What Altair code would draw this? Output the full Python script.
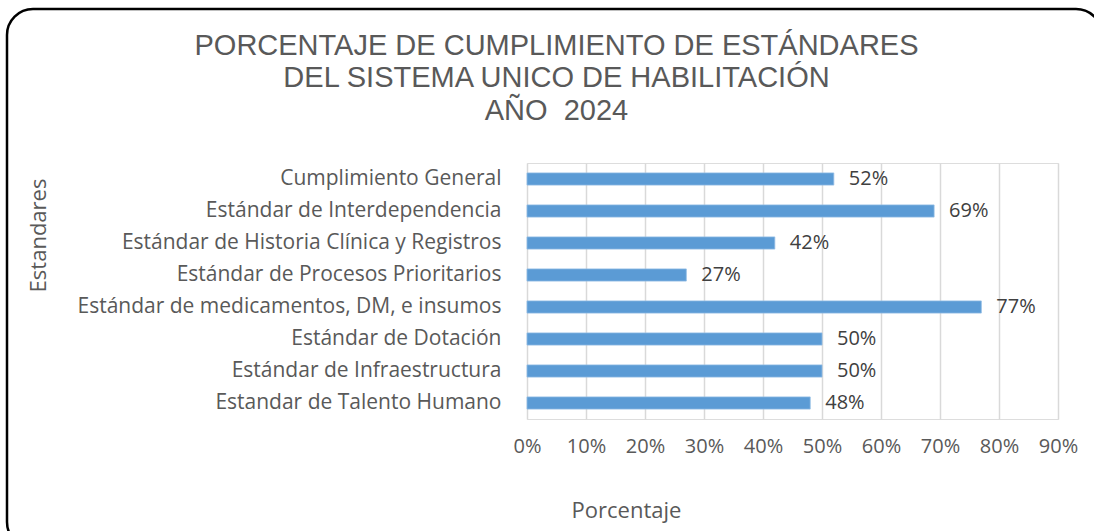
import altair as alt
import pandas as pd

categories = [
    "Cumplimiento General",
    "Estándar de Interdependencia",
    "Estándar de Historia Clínica y Registros",
    "Estándar de Procesos Prioritarios",
    "Estándar de medicamentos, DM, e insumos",
    "Estándar de Dotación",
    "Estándar de Infraestructura",
    "Estandar de Talento Humano",
]
values = [0.52, 0.69, 0.42, 0.27, 0.77, 0.50, 0.50, 0.48]

df = pd.DataFrame({"cat": categories, "val": values})
frame_df = pd.DataFrame({"k": [0]})

GRAY = "#595959"
LFONT = "Open Sans"
FS = 20

y_enc = alt.Y(
    "cat:N",
    sort=categories,
    scale=alt.Scale(paddingInner=0.62, paddingOuter=0.31),
    axis=alt.Axis(
        title="Estandares",
        titleFont=LFONT,
        titleFontSize=22,
        titleFontWeight="normal",
        titleColor=GRAY,
        titleAngle=-90,
        titleX=-489,
        titleY=72,
        titleAlign="center",
        titleBaseline="middle",
        labelFont=LFONT,
        labelFontSize=21,
        labelColor=GRAY,
        labelPadding=26,
        labelLimit=500,
        ticks=False,
        domain=False,
        grid=False,
    ),
)

x_enc = alt.X(
    "val:Q",
    scale=alt.Scale(domain=[0, 0.9], nice=False),
    axis=alt.Axis(
        title="Porcentaje",
        format=".0%",
        values=[0, 0.1, 0.2, 0.3, 0.4, 0.5, 0.6, 0.7, 0.8, 0.9],
        titleFont=LFONT,
        titleFontSize=22,
        titleFontWeight="normal",
        titleColor=GRAY,
        titleX=99,
        titleY=91,
        titleAlign="center",
        titleBaseline="middle",
        labelFont=LFONT,
        labelFontSize=FS,
        labelColor=GRAY,
        labelPadding=17,
        labelFlush=False,
        labelOverlap=False,
        labelBound=False,
        ticks=False,
        domain=False,
        grid=True,
        gridColor="#d9d9d9",
        gridWidth=1.5,
    ),
)

bars = alt.Chart(df).mark_bar(color="#5b9bd5", stroke="#8fbbe4", strokeWidth=0.8).encode(
    x=x_enc, y=y_enc
)

labels = alt.Chart(df).mark_text(
    align="left", baseline="middle", dx=15, font=LFONT, fontSize=FS, color="#404040"
).encode(
    x=alt.X("val:Q"),
    y=alt.Y("cat:N", sort=categories),
    text=alt.Text("val:Q", format=".0%"),
)

frame = alt.Chart(frame_df).mark_rect(
    fill=None, stroke="black", strokeWidth=2.5, cornerRadius=26, clip=False
).encode(
    x=alt.value(-520),
    x2=alt.value(575),
    y=alt.value(-154),
    y2=alt.value(385),
)

chart = alt.layer(frame, bars, labels).properties(
    width=531,
    height=256,
    title=alt.TitleParams(
        text=[
            "PORCENTAJE DE CUMPLIMIENTO DE ESTÁNDARES",
            "DEL SISTEMA UNICO DE HABILITACIÓN",
            "AÑO\u00a0 2024",
        ],
        font="Liberation Sans",
        fontSize=29,
        fontWeight="normal",
        color=GRAY,
        lineHeight=32.5,
        anchor="middle",
        frame="group",
        dx=-236,
        offset=-118,
    ),
    autosize=alt.AutoSizeParams(type="none"),
    padding={"left": 527, "top": 163, "right": 36, "bottom": 112},
).configure_view(stroke=None).configure(background="white")

chart.save("out.html", embed_options={"renderer": "svg", "actions": False})
